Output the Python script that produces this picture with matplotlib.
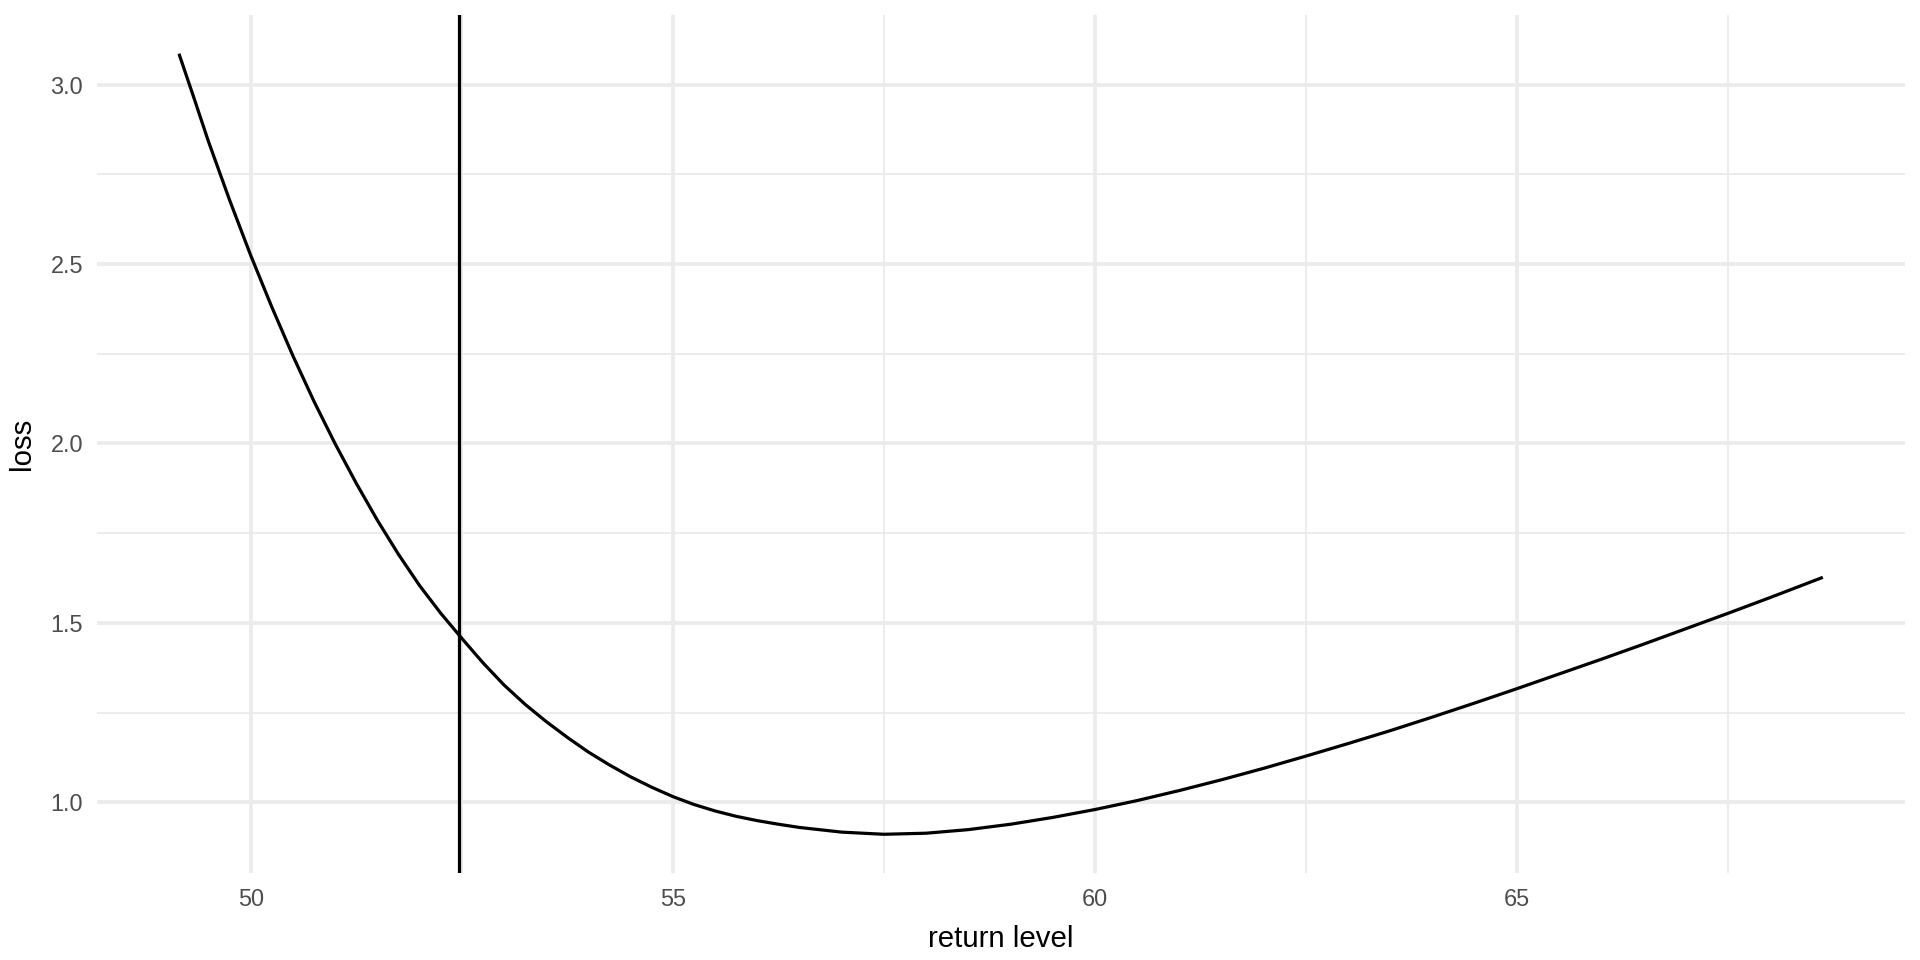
import matplotlib.pyplot as plt
from matplotlib.ticker import MultipleLocator

# loss curve
return_level = [49.15, 49.33, 49.5, 49.75, 50.0, 50.25, 50.5, 50.75, 51.0, 51.25,
                51.5, 51.75, 52.0, 52.25, 52.5, 52.75, 53.0, 53.25, 53.5, 53.75,
                54.0, 54.25, 54.5, 54.75, 55.0, 55.25, 55.5, 55.75, 56.0, 56.25,
                56.5, 57.0, 57.5, 58.0, 58.5, 59.0, 59.5, 60.0, 60.5, 61.0,
                61.5, 62.0, 62.5, 63.0, 63.5, 64.0, 64.5, 65.0, 65.5, 66.0,
                66.5, 67.0, 67.5, 68.0, 68.62]
loss = [3.086, 2.961, 2.841, 2.678, 2.524, 2.380, 2.244, 2.117, 1.999, 1.889,
        1.786, 1.691, 1.604, 1.527, 1.457, 1.389, 1.327, 1.273, 1.225, 1.181,
        1.140, 1.104, 1.071, 1.042, 1.016, 0.994, 0.976, 0.961, 0.949, 0.939,
        0.930, 0.917, 0.911, 0.914, 0.924, 0.939, 0.958, 0.980, 1.005, 1.033,
        1.063, 1.095, 1.129, 1.164, 1.200, 1.238, 1.277, 1.317, 1.358, 1.399,
        1.441, 1.484, 1.527, 1.571, 1.627]
vline_x = 52.47

x_ticks = [50, 55, 60, 65]
y_ticks = [1.0, 1.5, 2.0, 2.5, 3.0]

plt.rcParams['font.family'] = ['Liberation Sans', 'DejaVu Sans']

fig = plt.figure(figsize=(10, 5), dpi=192)
ax = fig.add_axes([0.0504, 0.0903, 0.9418, 0.8944])

ax.plot(return_level, loss, color='black', lw=1.2, solid_capstyle='butt',
        solid_joinstyle='round', zorder=3)
ax.axvline(vline_x, color='black', lw=1.2, zorder=3)

# ggplot-style 5% expansion
xr = max(return_level) - min(return_level)
yr = max(loss) - min(loss)
ax.set_xlim(min(return_level) - 0.05 * xr, max(return_level) + 0.05 * xr)
ax.set_ylim(min(loss) - 0.05 * yr, max(loss) + 0.05 * yr)

ax.set_xticks(x_ticks)
ax.set_yticks(y_ticks)
ax.set_yticklabels([f'{v:.1f}' for v in y_ticks])
ax.xaxis.set_minor_locator(MultipleLocator(2.5))
ax.yaxis.set_minor_locator(MultipleLocator(0.25))

ax.grid(which='major', color='#EBEBEB', lw=1.4, zorder=0)
ax.grid(which='minor', color='#EBEBEB', lw=0.7, zorder=0)
ax.set_axisbelow(True)
for s in ax.spines.values():
    s.set_visible(False)
ax.tick_params(which='both', length=0)
ax.tick_params(axis='x', pad=5.4, labelsize=8.8, labelcolor='#4D4D4D')
ax.tick_params(axis='y', pad=5.1, labelsize=8.8, labelcolor='#4D4D4D')

ax.set_xlabel('return level', fontsize=11, color='black', labelpad=5.5)
ax.set_ylabel('loss', fontsize=11, color='black', labelpad=5.5)

fig.savefig('out.png', dpi=192, facecolor='white')
